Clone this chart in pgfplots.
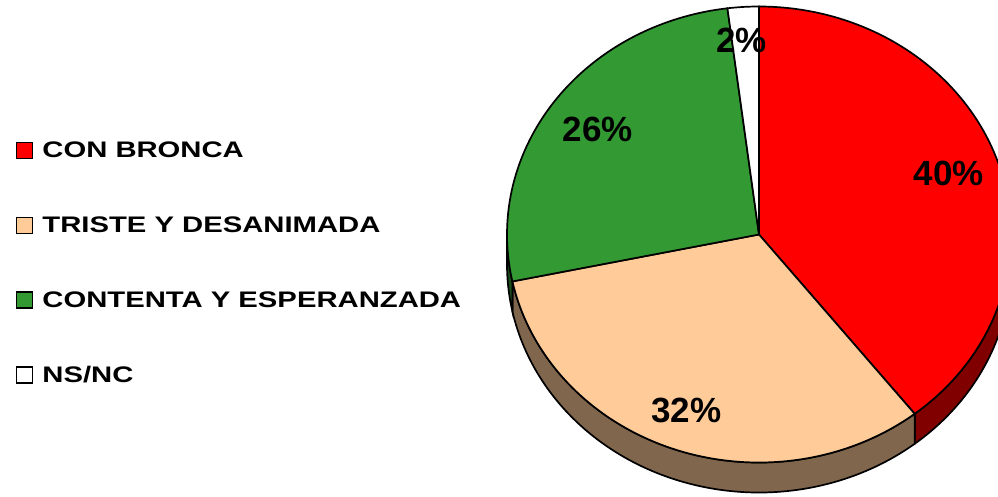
\documentclass[border=0pt]{standalone}
\usepackage{graphicx}
\usepackage{fontspec}
\setmainfont{Liberation Sans}
\usepackage{pgfplots}
\usepackage{pgfplotstable}
\pgfplotsset{compat=1.18}
\usepgfplotslibrary{fillbetween}
\definecolor{cRed}{HTML}{FF0000}
\definecolor{cRedS}{HTML}{800000}
\definecolor{cTan}{HTML}{FFCC99}
\definecolor{cTanS}{HTML}{80664D}
\definecolor{cGrn}{HTML}{339933}
\definecolor{cGrnS}{HTML}{1A4D1A}
\pgfplotstableread{
label value
CON 39.4
TRISTE 32.3
CONTENTA 26.3
NSNC 2.0
}\piedata
\begin{document}
\begin{tikzpicture}
\pgfplotstablegetelem{0}{value}\of\piedata \let\vA\pgfplotsretval
\pgfplotstablegetelem{1}{value}\of\piedata \let\vB\pgfplotsretval
\pgfplotstablegetelem{2}{value}\of\piedata \let\vC\pgfplotsretval
\pgfplotstablegetelem{3}{value}\of\piedata \let\vD\pgfplotsretval
\pgfmathsetmacro\aA{90}
\pgfmathsetmacro\aB{\aA-3.6*\vA}
\pgfmathsetmacro\aC{\aB-3.6*\vB}
\pgfmathsetmacro\aD{\aC-3.6*\vC}
\pgfmathsetmacro\aE{\aD-3.6*\vD}
\def\cx{759}\def\cy{261.5}\def\rx{252}\def\ry{228}\def\dd{30}
\begin{axis}[
  width=998bp, height=496bp, scale only axis,
  xmin=0, xmax=998, ymin=0, ymax=496,
  hide axis,
  legend image code/.code={\draw[#1, line width=1.4bp] (0bp,-8bp) rectangle (16bp,8bp);},
  legend style={at={(axis cs:16,354)}, anchor=north west, draw=none, fill=none,
    inner sep=0pt, outer sep=0pt, nodes={inner sep=0pt},
    /tikz/column sep=9bp, /tikz/row sep=57.3bp,
    font=\fontsize{22.5bp}{22.5bp}\selectfont\bfseries},
  legend cell align=left,
]
% sides
\addplot[forget plot, draw=none, name path=rt, domain=\aB:0, samples=60, variable=\t] ({\cx+\rx*cos(\t)},{\cy+\ry*sin(\t)});
\addplot[forget plot, draw=none, name path=rb, domain=\aB:0, samples=60, variable=\t] ({\cx+\rx*cos(\t)},{\cy-\dd+\ry*sin(\t)});
\addplot[forget plot, fill=cRedS, draw=black, line width=1.7bp] fill between[of=rt and rb];
\addplot[forget plot, draw=none, name path=tt, domain=\aC:\aB, samples=100, variable=\t] ({\cx+\rx*cos(\t)},{\cy+\ry*sin(\t)});
\addplot[forget plot, draw=none, name path=tb, domain=\aC:\aB, samples=100, variable=\t] ({\cx+\rx*cos(\t)},{\cy-\dd+\ry*sin(\t)});
\addplot[forget plot, fill=cTanS, draw=black, line width=1.7bp] fill between[of=tt and tb];
\addplot[forget plot, draw=none, name path=gt, domain=-180:\aC, samples=20, variable=\t] ({\cx+\rx*cos(\t)},{\cy+\ry*sin(\t)});
\addplot[forget plot, draw=none, name path=gb, domain=-180:\aC, samples=20, variable=\t] ({\cx+\rx*cos(\t)},{\cy-\dd+\ry*sin(\t)});
\addplot[forget plot, fill=cGrnS, draw=black, line width=1.7bp] fill between[of=gt and gb];
% top faces
\addplot[forget plot, fill=cRed, draw=black, line width=1.7bp, domain=\aB:\aA, samples=100, variable=\t] ({\cx+\rx*cos(\t)},{\cy+\ry*sin(\t)}) -- (\cx,\cy) -- cycle;
\addplot[forget plot, fill=cTan, draw=black, line width=1.7bp, domain=\aC:\aB, samples=100, variable=\t] ({\cx+\rx*cos(\t)},{\cy+\ry*sin(\t)}) -- (\cx,\cy) -- cycle;
\addplot[forget plot, fill=cGrn, draw=black, line width=1.7bp, domain=\aD:\aC, samples=100, variable=\t] ({\cx+\rx*cos(\t)},{\cy+\ry*sin(\t)}) -- (\cx,\cy) -- cycle;
\addplot[forget plot, fill=white, draw=black, line width=1.7bp, domain=\aE:\aD, samples=10, variable=\t] ({\cx+\rx*cos(\t)},{\cy+\ry*sin(\t)}) -- (\cx,\cy) -- cycle;
% labels
\node[inner sep=0pt, font=\fontsize{35bp}{35bp}\selectfont\bfseries] at (axis cs:949,323) {40\%};
\node[inner sep=0pt, font=\fontsize{35bp}{35bp}\selectfont\bfseries] at (axis cs:686.5,85.5) {32\%};
\node[inner sep=0pt, font=\fontsize{35bp}{35bp}\selectfont\bfseries] at (axis cs:598,366.5) {26\%};
\node[inner sep=0pt, font=\fontsize{35bp}{35bp}\selectfont\bfseries] at (axis cs:741.5,456) {2\%};
% legend
\addlegendimage{fill=cRed, draw=black}
\addlegendentry{\scalebox{1.3}[1]{CON BRONCA}}
\addlegendimage{fill=cTan, draw=black}
\addlegendentry{\scalebox{1.3}[1]{TRISTE Y DESANIMADA}}
\addlegendimage{fill=cGrn, draw=black}
\addlegendentry{\scalebox{1.3}[1]{CONTENTA Y ESPERANZADA}}
\addlegendimage{fill=white, draw=black}
\addlegendentry{\scalebox{1.3}[1]{NS/NC}}
\end{axis}
\pgfresetboundingbox
\path[use as bounding box] (current axis.south west) rectangle (current axis.north east);
\end{tikzpicture}
\end{document}
